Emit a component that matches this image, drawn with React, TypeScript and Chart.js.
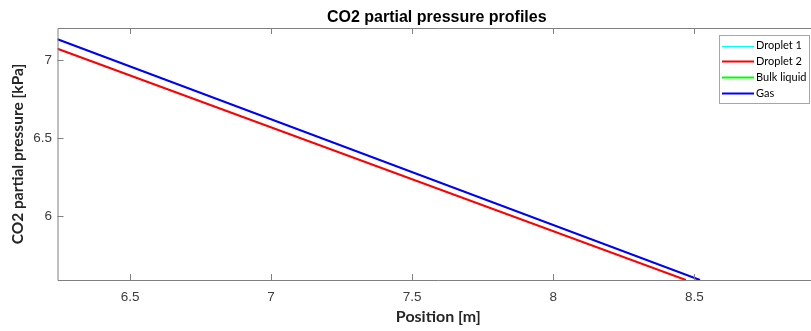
import React, { useEffect, useRef } from "react";
import { Chart, registerables } from "chart.js";

Chart.register(...registerables);

const seriesLabels = ["Droplet 1", "Droplet 2", "Bulk liquid", "Gas"];
const seriesColors = ["#00ffff", "#ff0000", "#00ff00", "#0000ff"];
const seriesWidths = [1, 2, 2, 2];

const droplet1X = [6.243, 8.47];
const droplet1Y = [7.074, 5.592];
const droplet2X = [6.243, 8.47];
const droplet2Y = [7.074, 5.592];
const bulkX = [6.243, 8.52];
const bulkY = [7.135, 5.592];
const gasX = [6.243, 8.52];
const gasY = [7.135, 5.592];

const xMin = 6.243;
const xMax = 8.942;
const yMin = 5.592;
const yMax = 7.207;

const titleText = "CO2 partial pressure profiles";
const xTitle = "Position [m]";
const yTitle = "CO2 partial pressure [kPa]";

const AXIS_COLOR = "#808080";
const TEXT_COLOR = "#3c3c3c";

function pts(xs: number[], ys: number[]) {
  return xs.map((x, i) => ({ x, y: ys[i] }));
}

const boxPlugin = {
  id: "matlabBox",
  afterDraw(chart: any) {
    const { ctx, chartArea } = chart;
    const { left, right, top, bottom } = chartArea;
    const xs = chart.scales.x;
    const ys = chart.scales.y;
    ctx.save();
    ctx.strokeStyle = AXIS_COLOR;
    ctx.lineWidth = 1;
    ctx.beginPath();
    ctx.moveTo(left + 0.5, top + 0.5);
    ctx.lineTo(right + 0.5, top + 0.5);
    ctx.lineTo(right + 0.5, bottom + 0.5);
    ctx.lineTo(left + 0.5, bottom + 0.5);
    ctx.closePath();
    const tl = 6;
    xs.ticks.forEach((t: any) => {
      const px = Math.round(xs.getPixelForValue(t.value)) + 0.5;
      ctx.moveTo(px, bottom);
      ctx.lineTo(px, bottom - tl);
      ctx.moveTo(px, top);
      ctx.lineTo(px, top + tl);
    });
    ys.ticks.forEach((t: any) => {
      const py = Math.round(ys.getPixelForValue(t.value)) + 0.5;
      ctx.moveTo(left, py);
      ctx.lineTo(left + tl, py);
      ctx.moveTo(right, py);
      ctx.lineTo(right - tl, py);
    });
    ctx.stroke();

    // title
    ctx.fillStyle = "#000000";
    ctx.font = "bold 16px 'Liberation Sans', Arial, sans-serif";
    ctx.textAlign = "center";
    ctx.textBaseline = "middle";
    ctx.fillText(titleText, (left + right) / 2 - 1.5, 18);

    // legend
    const bx = 719.5, by = 35.5, bw = 90, bh = 68;
    ctx.fillStyle = "#ffffff";
    ctx.fillRect(bx, by, bw, bh);
    ctx.strokeStyle = "#a6a6a6";
    ctx.strokeRect(bx, by, bw, bh);
    ctx.font = "11px Lato, 'Open Sans', sans-serif";
    ctx.textAlign = "left";
    ctx.textBaseline = "middle";
    chart.data.datasets.forEach((ds: any, i: number) => {
      const cy = 45.5 + i * 15.9;
      ctx.strokeStyle = ds.borderColor;
      ctx.lineWidth = seriesWidths[i];
      ctx.beginPath();
      ctx.moveTo(722, Math.round(cy) + 0.5);
      ctx.lineTo(754, Math.round(cy) + 0.5);
      ctx.stroke();
      ctx.fillStyle = "#000000";
      ctx.fillText(ds.label, 756, cy);
    });
    ctx.restore();
  },
};

export default function App() {
  const ref = useRef<HTMLCanvasElement | null>(null);
  useEffect(() => {
    if (!ref.current) return;
    const xsArr = [droplet1X, droplet2X, bulkX, gasX];
    const ysArr = [droplet1Y, droplet2Y, bulkY, gasY];
    const chart = new Chart(ref.current, {
      type: "line",
      data: {
        datasets: seriesLabels.map((label, i) => ({
          label,
          data: pts(xsArr[i], ysArr[i]),
          borderColor: seriesColors[i],
          backgroundColor: seriesColors[i],
          // hidden series sit beneath the visible ones; keep them slightly thinner
          borderWidth: i === 0 ? 1 : i === 2 ? 1.2 : seriesWidths[i],
          pointRadius: 0,
          tension: 0,
          fill: false,
          order: seriesLabels.length - i,
        })),
      },
      options: {
        responsive: false,
        animation: false,
        layout: { padding: { top: 28, right: 1, left: 0, bottom: 0 } },
        plugins: {
          legend: { display: false },
          title: { display: false },
          tooltip: { enabled: false },
        },
        scales: {
          x: {
            type: "linear",
            min: xMin,
            max: xMax,
            grid: { display: false, drawTicks: false },
            border: { display: false },
            ticks: {
              stepSize: 0.5,
              includeBounds: false,
              padding: 9,
              color: TEXT_COLOR,
              font: { family: "'Liberation Sans', Arial, sans-serif", size: 13.5 },
              callback: (v: any) => String(Math.round(Number(v) * 10) / 10),
            },
            title: {
              display: true,
              text: xTitle,
              color: "#262626",
              font: { family: "Lato, 'Open Sans', sans-serif", size: 16, weight: "bold" },
              padding: { top: 0, bottom: 4.5 },
            },
            afterFit: (s: any) => {
              s.height = 51;
            },
          },
          y: {
            type: "linear",
            min: yMin,
            max: yMax,
            grid: { display: false, drawTicks: false },
            border: { display: false },
            ticks: {
              stepSize: 0.5,
              includeBounds: false,
              padding: 5.5,
              color: TEXT_COLOR,
              font: { family: "'Liberation Sans', Arial, sans-serif", size: 13.5 },
              callback: (v: any) => String(Math.round(Number(v) * 10) / 10),
            },
            title: {
              display: true,
              text: yTitle,
              color: "#262626",
              font: { family: "Lato, 'Open Sans', sans-serif", size: 15.5, weight: "bold" },
              padding: { top: 8.7, bottom: 0 },
            },
            afterFit: (s: any) => {
              s.width = 57.5;
            },
          },
        },
      },
      plugins: [boxPlugin],
    } as any);
    return () => chart.destroy();
  }, []);
  return (
    <div style={{ position: "fixed", left: 0, top: 0, width: 820, height: 331, background: "#fff" }}>
      <canvas ref={ref} width={820} height={331} style={{ width: 820, height: 331, display: "block" }} />
    </div>
  );
}
